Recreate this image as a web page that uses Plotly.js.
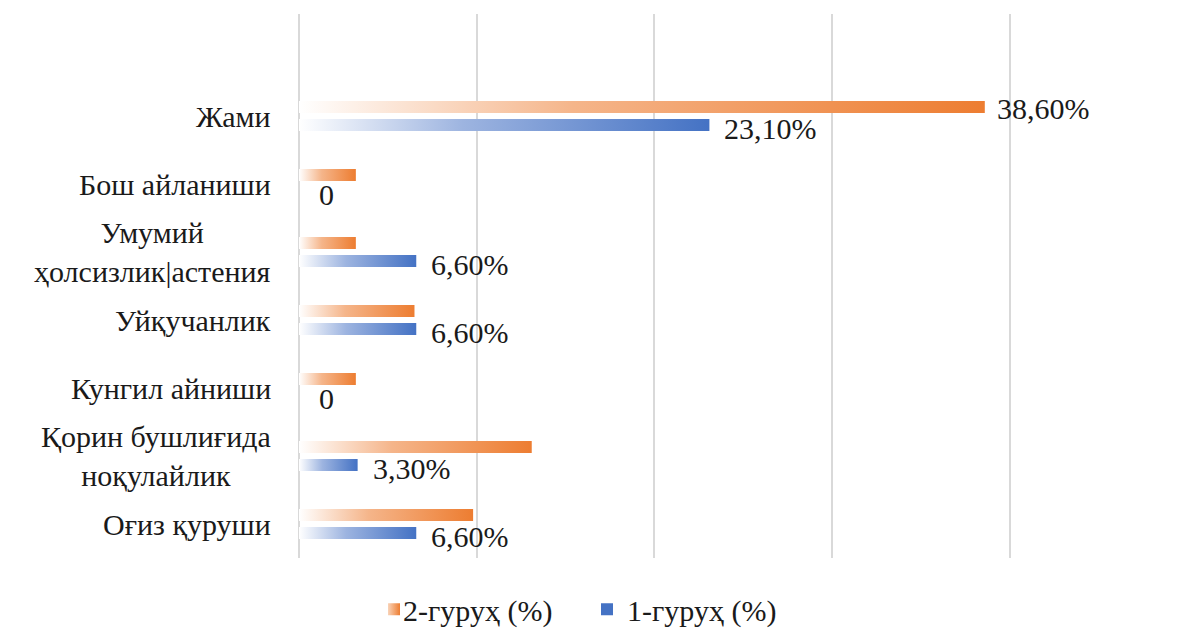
<!DOCTYPE html>
<html>
<head>
<meta charset="utf-8">
<script src="https://cdn.plot.ly/plotly-3.0.1.min.js"></script>
<style>
  html, body { margin: 0; padding: 0; background: #fff; }
</style>
</head>
<body>
<div id="chart" style="width:1177px;height:628px"></div>
<script>
// Categories listed bottom-to-top
const categories = ['Оғиз қуруши', 'Қорин бушлиғида<br>ноқулайлик', 'Кунгил айниши', 'Уйқучанлик', 'Умумий<br>ҳолсизлик|астения', 'Бош айланиши', 'Жами'];
const group2 = [9.8, 13.1, 3.2, 6.5, 3.2, 3.2, 38.6];
const group1 = [6.6, 3.3, 0, 6.6, 6.6, 0, 23.1];
const group2Labels = ['', '', '', '', '', '', '38,60%'];
const group1Labels = ['6,60%', '3,30%', '0', '6,60%', '6,60%', '0', '23,10%'];
const seriesNames = ['2-гуруҳ (%)', '1-гуруҳ (%)'];
const xTicks = [0, 10, 20, 30, 40];

const FONT = 'Liberation Serif';
const FS = 30;
const TXT = '#1a1a1a';
const ORANGE = '#ED7D31';
const BLUE = '#4472C4';

const traces = [
  { type: 'bar', orientation: 'h', name: seriesNames[1], x: group1, y: categories,
    marker: { color: BLUE }, hoverinfo: 'none', legend: 'legend2' },
  { type: 'bar', orientation: 'h', name: seriesNames[0], x: group2, y: categories,
    marker: { color: ORANGE }, hoverinfo: 'none', legend: 'legend' }
];

const annotations = [];
categories.forEach(c => annotations.push({
  xref: 'paper', yref: 'y', x: 0, y: c, xanchor: 'right', yanchor: 'middle',
  xshift: -26, text: c, showarrow: false, align: 'center',
  font: { family: FONT, size: FS, color: TXT }
}));
group1Labels.forEach((t, i) => { if (t) annotations.push({
  xref: 'x', yref: 'y', x: group1[i], y: categories[i], xanchor: 'left', yanchor: 'middle',
  xshift: group1[i] === 0 ? 18 : 13, yshift: group1[i] === 0 ? -10 : -12, text: t, showarrow: false,
  font: { family: FONT, size: FS, color: TXT }
}); });
group2Labels.forEach((t, i) => { if (t) annotations.push({
  xref: 'x', yref: 'y', x: group2[i], y: categories[i], xanchor: 'left', yanchor: 'middle',
  xshift: 10, yshift: 8, text: t, showarrow: false,
  font: { family: FONT, size: FS, color: TXT }
}); });

const legendBase = { orientation: 'h', xref: 'container', yref: 'container', xanchor: 'left',
  y: 0.03, yanchor: 'middle', itemwidth: 30, bgcolor: 'rgba(0,0,0,0)',
  font: { family: FONT, size: FS, color: TXT } };

const layout = {
  width: 1177, height: 628,
  font: { family: FONT, size: FS, color: TXT },
  margin: { l: 299, r: 162, t: 14, b: 70 },
  paper_bgcolor: '#fff', plot_bgcolor: '#fff',
  barmode: 'group', bargap: 0.47, bargroupgap: 0.33,
  showlegend: true,
  legend: Object.assign({}, legendBase, { x: 363 / 1177 }),
  legend2: Object.assign({}, legendBase, { x: 587 / 1177 }),
  xaxis: { range: [0, 40.3], tickvals: xTicks, showticklabels: false, showgrid: true,
           gridcolor: '#d9d9d9', gridwidth: 2, zeroline: true, zerolinecolor: '#d9d9d9',
           zerolinewidth: 2, showline: false, fixedrange: true },
  yaxis: { type: 'category', categoryorder: 'array', categoryarray: categories,
           range: [-0.5, 7.5], showticklabels: false, showgrid: false, zeroline: false,
           showline: false, fixedrange: true },
  annotations: annotations
};

Plotly.newPlot('chart', traces, layout, { displayModeBar: false }).then(gd => {
  const svg = gd.querySelector('svg.main-svg');
  const NS = 'http://www.w3.org/2000/svg';
  let defs = svg.querySelector('defs');
  if (!defs) { defs = document.createElementNS(NS, 'defs'); svg.insertBefore(defs, svg.firstChild); }
  function grad(id, stops) {
    const g = document.createElementNS(NS, 'linearGradient');
    g.setAttribute('id', id);
    g.setAttribute('x1', '0'); g.setAttribute('x2', '1'); g.setAttribute('y1', '0'); g.setAttribute('y2', '0');
    stops.forEach(([o, c]) => {
      const s = document.createElementNS(NS, 'stop');
      s.setAttribute('offset', o); s.setAttribute('stop-color', c);
      g.appendChild(s);
    });
    defs.appendChild(g);
  }
  grad('gradBlue', [['0', '#ffffff'], ['0.4', '#9db4e0'], ['1', BLUE]]);
  grad('gradOrange', [['0', '#ffffff'], ['0.4', '#f5b58a'], ['1', ORANGE]]);
  grad('gradBlueL', [['0', '#c9d6ef'], ['1', BLUE]]);
  grad('gradOrangeL', [['0', '#f9d3b8'], ['1', ORANGE]]);
  const ids = ['gradBlue', 'gradOrange'];
  gd.querySelectorAll('.barlayer .trace').forEach((t, i) => {
    t.querySelectorAll('path').forEach(p => { p.style.fill = 'url(#' + ids[i] + ')'; });
  });
  gd.querySelectorAll('g.traces').forEach(t => {
    const txt = t.querySelector('text.legendtext');
    if (!txt) return;
    const id = txt.textContent === seriesNames[0] ? 'gradOrangeL' : 'gradBlueL';
    t.querySelectorAll('.legendpoints').forEach(g => {
      g.setAttribute('transform', ((g.getAttribute('transform') || '') + ' translate(11,0)').trim());
    });
    t.querySelectorAll('.legendpoints path').forEach(p => { p.style.fill = 'url(#' + id + ')'; });
  });
});
</script>
</body>
</html>
